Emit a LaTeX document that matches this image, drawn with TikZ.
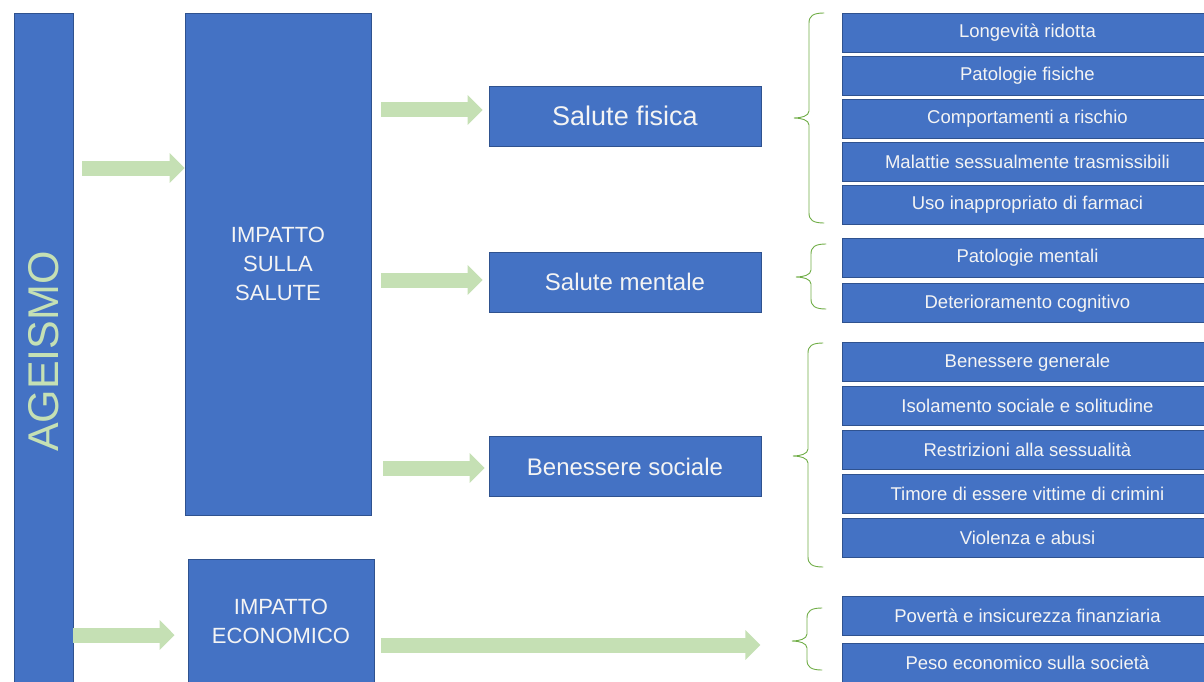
\documentclass[tikz,border=0pt]{standalone}
\usepackage{fontspec}
\setmainfont{Liberation Sans}
\usetikzlibrary{arrows.meta, positioning}
\definecolor{boxblue}{HTML}{4472C4}
\definecolor{boxedge}{HTML}{2F528F}
\definecolor{paletext}{HTML}{F4F4F4}
\definecolor{flowgreen}{HTML}{C5E0B4}
\definecolor{bracegreen}{HTML}{70AD47}
% curly brace: x of the spine, top, tip, bottom
\newcommand{\sidebrace}[4]{%
  \draw[brace] (#1+15,#2) .. controls (#1+4,#2) and (#1,#2+3) .. (#1,#2+10)
    -- (#1,#3-7) .. controls (#1,#3-2) and (#1-8,#3) .. (#1-15,#3)
    .. controls (#1-8,#3) and (#1,#3+2) .. (#1,#3+7)
    -- (#1,#4-10) .. controls (#1,#4-3) and (#1+4,#4) .. (#1+15,#4);}

\begin{document}
\begin{tikzpicture}[x=1pt, y=-1pt,
  block/.style={rectangle, draw=boxedge, line width=0.9pt, fill=boxblue,
                text=paletext, inner sep=0pt, align=center},
  bar/.style={block, minimum width=59pt, minimum height=677pt},
  impact/.style={block, minimum width=186pt, font=\fontsize{22}{29}\selectfont},
  area/.style={block, minimum width=272pt, minimum height=60pt,
               font=\fontsize{24}{28}\selectfont},
  item/.style={block, minimum width=370pt, minimum height=39pt,
               font=\fontsize{18.5}{22}\selectfont},
  flow/.style={line width=15pt, flowgreen, -{Triangle[width=29pt, length=15pt]}},
  brace/.style={bracegreen, line width=0.9pt, line cap=round}]
  \useasboundingbox (0,0) rectangle (1204,682);

  % left column
  \node[bar, text=flowgreen, font=\fontsize{43}{50}\selectfont] (ageismo) at (43.5,351.5)
    {\rotatebox{90}{AGEISMO}};
  \node[impact, minimum height=502pt] (salute) at (278,264) {IMPATTO\\SULLA\\SALUTE};
  \node[impact, minimum height=124pt] (economico) at (281,621) {IMPATTO\\ECONOMICO};

  % middle column
  \node[area, font=\fontsize{27}{30}\selectfont] (fisica) at (625,116) {Salute fisica};
  \node[area] (mentale) at (625,282) {Salute mentale};
  \node[area] (sociale) at (625,466.5) {Benessere sociale};

  % right column
  \node[item, anchor=north west] (longevita) at (842,13) {Longevità ridotta};
  \node[item, below=3pt of longevita] (patfis) {Patologie fisiche};
  \node[item, below=3pt of patfis] (rischio) {Comportamenti a rischio};
  \node[item, below=3pt of rischio] (malattie) {Malattie sessualmente trasmissibili};
  \node[item, below=3pt of malattie] (farmaci) {Uso inappropriato di farmaci};
  \node[item, below=13pt of farmaci] (patment) {Patologie mentali};
  \node[item, below=6pt of patment] (cognitivo) {Deterioramento cognitivo};
  \node[item, below=19pt of cognitivo] (generale) {Benessere generale};
  \node[item, below=4pt of generale] (isolamento) {Isolamento sociale e solitudine};
  \node[item, below=4pt of isolamento] (sessualita) {Restrizioni alla sessualità};
  \node[item, below=4pt of sessualita] (crimini) {Timore di essere vittime di crimini};
  \node[item, below=4pt of crimini] (violenza) {Violenza e abusi};
  \node[item, below=38pt of violenza] (poverta) {Povertà e insicurezza finanziaria};
  \node[item, below=7pt of poverta] (peso) {Peso economico sulla società};

  % arrows
  \coordinate (in1) at ([yshift=96pt]salute.west);
  \draw[flow, shorten <=9pt] (ageismo.east |- in1) -- (in1);
  \coordinate (in2) at ([xshift=-13pt, yshift=-14pt]economico.west);
  \draw[flow] (ageismo.east |- in2) -- (in2);
  \coordinate (in3) at ([yshift=6pt]fisica.west);
  \draw[flow, shorten <=10pt, shorten >=6pt] (salute.east |- in3) -- (in3);
  \coordinate (in4) at ([yshift=2pt]mentale.west);
  \draw[flow, shorten <=10pt, shorten >=6pt] (salute.east |- in4) -- (in4);
  \coordinate (in5) at ([yshift=-1.5pt]sociale.west);
  \draw[flow, shorten <=12pt, shorten >=4pt] (salute.east |- in5) -- (in5);
  \coordinate (out6) at ([yshift=-24pt]economico.east);
  \draw[flow, shorten <=7pt, shorten >=1pt] (out6) -- (out6 -| fisica.east);

  % braces
  \sidebrace{809}{13}{118}{223}
  \sidebrace{811}{244}{277}{309}
  \sidebrace{808}{343}{456}{567}
  \sidebrace{807}{608}{641}{670}
\end{tikzpicture}
\end{document}
